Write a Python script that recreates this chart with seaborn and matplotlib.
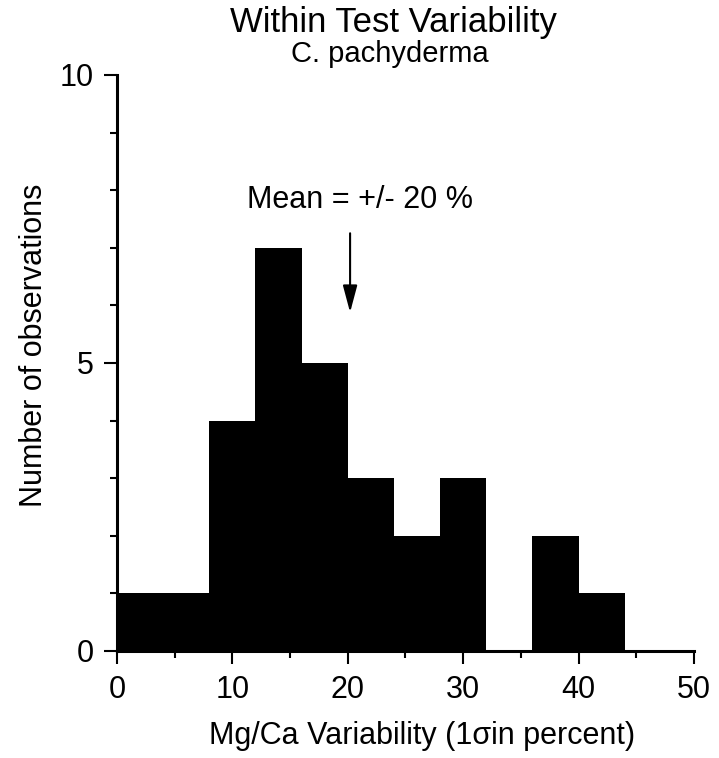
import numpy as np
import pandas as pd
import matplotlib
matplotlib.use("Agg")
import matplotlib.pyplot as plt
import seaborn as sns
from matplotlib.ticker import MultipleLocator

# bins de 4 em 4 (variabilidade Mg/Ca em %)
bin_edges = [0, 4, 8, 12, 16, 20, 24, 28, 32, 36, 40, 44, 48]
contagens = [1, 1, 4, 7, 5, 3, 2, 3, 0, 2, 1, 0]
media = 20

df = pd.DataFrame({
    "centro": [(a + b) / 2 for a, b in zip(bin_edges[:-1], bin_edges[1:])],
    "n": contagens,
})

sns.set_style("ticks")
plt.rcParams["font.family"] = ["Liberation Sans", "DejaVu Sans"]
plt.rcParams["text.color"] = "black"
plt.rcParams["xtick.color"] = "black"
plt.rcParams["ytick.color"] = "black"

fig = plt.figure(figsize=(7.19, 7.58), dpi=100)
ax = fig.add_axes([0.1627, 0.1412, 0.8025, 0.7599])

sns.histplot(data=df, x="centro", weights="n", bins=bin_edges, ax=ax,
             color="black", alpha=1, edgecolor="black", linewidth=0)

ax.set_xlim(0, 50)
ax.set_ylim(0, 10)
ax.xaxis.set_major_locator(MultipleLocator(10))
ax.xaxis.set_minor_locator(MultipleLocator(5))
ax.yaxis.set_major_locator(MultipleLocator(5))
ax.yaxis.set_minor_locator(MultipleLocator(1))
ax.tick_params(axis="both", which="major", length=9.5, width=1.5, labelsize=22)
ax.tick_params(axis="both", which="minor", length=5, width=1.5)
ax.tick_params(axis="x", which="major", pad=8)
ax.tick_params(axis="y", which="major", pad=7)
for lado in ["top", "right"]:
    ax.spines[lado].set_visible(False)
for lado in ["left", "bottom"]:
    ax.spines[lado].set_linewidth(2.2)
    ax.spines[lado].set_color("black")

ax.set_xlabel("")
ax.set_ylabel("")
fig.text(422 / 719, 1 - 744 / 758, "Mg/Ca Variability (1σin percent)",
         ha="center", va="baseline", fontsize=22)
fig.text(42 / 719, 1 - 345 / 758, "Number of observations", rotation=90,
         ha="center", va="baseline", fontsize=22, rotation_mode="anchor")

fig.text(393 / 719, 1 - 32 / 758, "Within Test Variability", ha="center", va="baseline", fontsize=25)
fig.text(390 / 719, 1 - 62 / 758, "C. pachyderma", ha="center", va="baseline", fontsize=21)

# seta indicando a media
ax.text(21.1, (651 - 208) / 57.6, "Mean = +/- 20 %", ha="center", va="baseline", fontsize=22)
ax.annotate("", xy=(media + 0.2, 5.83), xytext=(media + 0.2, 7.3),
            arrowprops=dict(arrowstyle="-|>,head_length=0.75,head_width=0.2",
                            color="black", lw=1.5, mutation_scale=22))

fig.savefig("out.png", dpi=100, facecolor="white")
